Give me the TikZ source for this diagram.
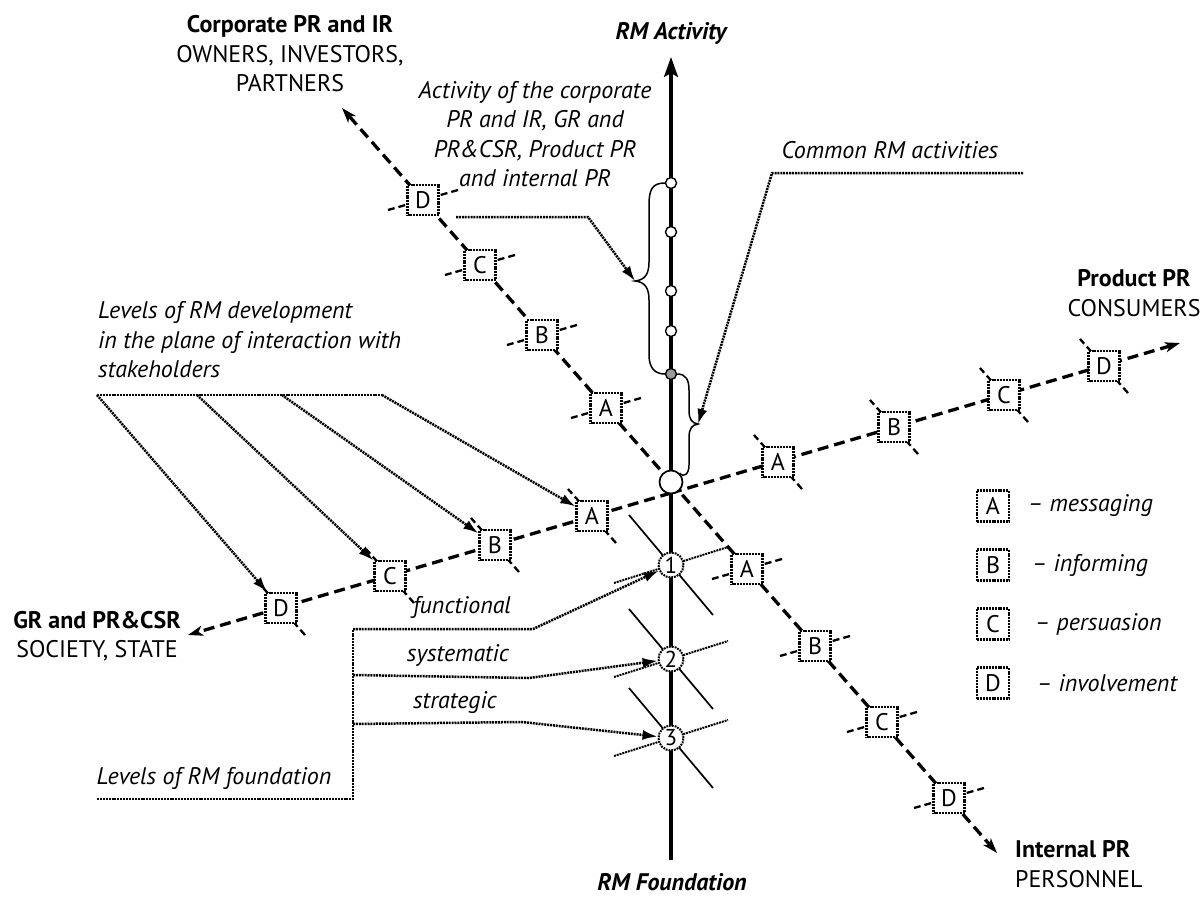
\documentclass[tikz,border=0pt]{standalone}
\usepackage{fontspec}
\setmainfont{PT Sans}
\usetikzlibrary{arrows.meta,calc}

\begin{document}
\begin{tikzpicture}[x=1pt,y=-1pt,
  axisline/.style={line width=3.3pt, dash pattern=on 11pt off 6pt},
  tickline/.style={line width=2.3pt, dash pattern=on 7pt off 4pt},
  lbox/.style={draw, line width=2.3pt, dash pattern=on 2pt off 0.9pt, fill=white,
    minimum width=31pt, minimum height=30pt, inner sep=0pt, font=\fontsize{24}{28}\selectfont},
  lvl/.style={circle, draw, line width=2pt, dash pattern=on 1.8pt off 1pt, fill=white,
    minimum size=25pt, inner sep=0pt, font=\fontsize{23}{26}\selectfont},
  dot/.style={circle, draw, line width=1.4pt, fill=white, minimum size=11pt, inner sep=0pt},
  ptrline/.style={line width=2.5pt, dash pattern=on 2pt off 0.9pt},
  ptr/.style={ptrline, -{Latex[length=15pt,width=10pt]}},
  tip/.style={-{Stealth[length=15pt,width=10pt,inset=4pt]}},
  txt/.style={font=\fontsize{24}{29.5}\selectfont, inner sep=0pt, align=center},
  itx/.style={inner sep=0pt, align=center, font=\fontsize{24}{29.5}\selectfont\itshape},
  brace/.style={line width=1.5pt}
]
\useasboundingbox (0,0) rectangle (1204,897);

% axis end points
\coordinate (corpEnd) at (342,108);
\coordinate (intEnd) at (997,853);
\coordinate (grEnd) at (188,635);
\coordinate (prodEnd) at (1180,343);
\coordinate (fndEnd) at (671,860);
\coordinate (actEnd) at (671,57);

% level positions on the stakeholder axes
\coordinate (cD) at (423,200);
\coordinate (cC) at (480,265);
\coordinate (cB) at (542,335);
\coordinate (cA) at (606,408);
\coordinate (iA) at (747,569);
\coordinate (iB) at (815,646);
\coordinate (iC) at (882,722);
\coordinate (iD) at (949,798);
\coordinate (pDl) at (281,608);
\coordinate (pCl) at (390,576);
\coordinate (pBl) at (495,545);
\coordinate (pAl) at (592,516);
\coordinate (pA) at (778,462);
\coordinate (pB) at (894,427);
\coordinate (pC) at (1004,395);
\coordinate (pD) at (1104,366);

% vertical RM axis
\draw[line width=3.2pt, -{Stealth[length=20pt,width=14pt,inset=4pt]}] (fndEnd) -- (actEnd);

% stakeholder axes
\draw[axisline, tip] (671,482) -- (corpEnd);
\draw[axisline, tip] (671,482) -- (intEnd);
\draw[axisline, tip] (671,493) -- (grEnd);
\draw[axisline, tip] (671,493) -- (prodEnd);

% cross ticks at each level
\foreach \b in {cD,cC,cB,cA,iA,iB,iC,iD}
  \draw[tickline] ($(\b)+(35,-10)$) -- ($(\b)-(35,-10)$);
\foreach \b in {pDl,pCl,pBl,pAl,pA,pB,pC,pD}
  \draw[tickline] ($(\b)+(24,27)$) -- ($(\b)-(24,27)$);

% foundation levels: crossing lines
\foreach \y in {565,659,738} {
  \draw[line width=1.7pt] ($(671,\y)+(-42,-50)$) -- ($(671,\y)+(42,50)$);
  \draw[ptrline, line width=2pt] ($(671,\y)+(-57,18)$) -- ($(671,\y)+(57,-18)$);
}

% level boxes
\foreach \b/\t in {cD/D,cC/C,cB/B,cA/A,iA/A,iB/B,iC/C,iD/D,pDl/D,pCl/C,pBl/B,pAl/A,pA/A,pB/B,pC/C,pD/D}
  \node[lbox] (n\b) at (\b) {\t};

% activity points on the RM axis
\node[dot] (a1) at (671,183) {};
\node[dot] (a2) at (671,232) {};
\node[dot] (a3) at (671,291) {};
\node[dot] (a4) at (671,331) {};
\node[dot, fill=black!40] (ag) at (671,374) {};
\node[circle, draw, line width=1.7pt, fill=white, minimum size=23pt, inner sep=0pt] (O) at (671,482) {};

% foundation levels
\node[lvl] (L1) at (671,565) {1};
\node[lvl] (L2) at (671,659) {2};
\node[lvl] (L3) at (671,738) {3};

% braces
\draw[brace] (a1.west) .. controls (652,183) and (649,190) .. (649,205) -- (649,262)
  .. controls (649,274) and (645,280) .. (635,281) coordinate (bL)
  .. controls (645,282) and (649,288) .. (649,300) -- (649,355)
  .. controls (649,368) and (655,374) .. (ag.west);
\draw[brace] (ag.east) .. controls (686,374) and (689,380) .. (689,390) -- (689,410)
  .. controls (689,420) and (692,423) .. (698,424) coordinate (bR)
  .. controls (692,425) and (689,428) .. (689,438) -- (689,465)
  .. controls (689,474) and (684,478) .. (O.north east);

% pointers
\draw[ptr] (456,217) -- (588,217) -- (bL);
\draw[ptr] (1023,173) -- (772,173) -- (bR);
\draw[ptrline] (97,395) -- (382,395);
\draw[ptr] (97,395) -- (npDl);
\draw[ptr] (197,395) -- (npCl);
\draw[ptr] (282,395) -- (npBl);
\draw[ptr] (382,395) -- (npAl);
\draw[ptrline] (97,799) -| (353,629);
\draw[ptr] (353,629) -- (533,629) -- (L1);
\draw[ptr] (353,675) -- (529,678) -- (L2);
\draw[ptr] (353,724) -- (522,722) -- (L3);

% texts
\node[itx, font=\fontsize{24}{29.5}\selectfont\bfseries\itshape] (tAct) at (671,33) {RM Activity};
\node[itx, font=\fontsize{24}{29.5}\selectfont\bfseries\itshape] (tFnd) at (672,882) {RM Foundation};
\node[txt] (tCorp) at (290,54) {\textbf{Corporate PR and IR}\\OWNERS, INVESTORS,\\PARTNERS};
\node[txt] (tProd) at (1134,293) {\textbf{Product PR}\\CONSUMERS};
\node[txt] (tGR) at (97,636) {\textbf{GR and PR\&CSR}\\SOCIETY, STATE};
\node[txt, align=left, anchor=west] (tInt) at (1015,864) {\textbf{Internal PR}\\PERSONNEL};
\node[itx] (tActiv) at (535,134) {Activity of the corporate\\PR and IR, GR and\\PR\&CSR, Product PR\\and internal PR};
\node[itx] (tCommon) at (890,150) {Common RM activities};
\node[itx, align=left, anchor=west] (tDev) at (98,340) {Levels of RM development\\in the plane of interaction with\\stakeholders};
\node[itx] (tFound) at (214,778) {Levels of RM foundation};
\node[itx] (tF) at (462,607) {functional};
\node[itx] (tSy) at (458,655) {systematic};
\node[itx] (tSt) at (455,703) {strategic};

% legend
\foreach \l/\y/\x/\w in {A/506/1028/messaging, B/565/1032/informing, C/624/1035/persuasion, D/683/1037/involvement} {
  \node[lbox, minimum width=32pt, minimum height=31pt] (leg\l) at (993,\y) {\l};
  \node[itx, anchor=west] (legt\l) at (\x,\y) {\textendash\ \w};
}
\end{tikzpicture}
\end{document}
